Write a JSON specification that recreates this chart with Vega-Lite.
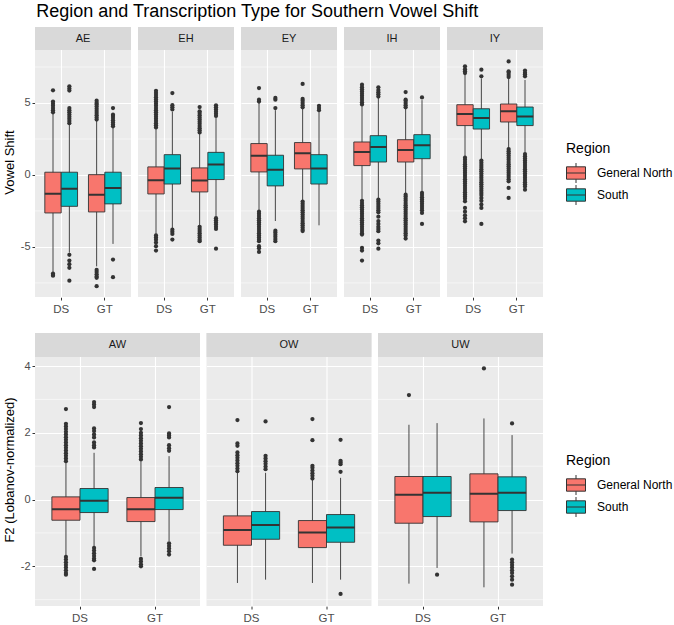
{
  "$schema": "https://vega.github.io/schema/vega-lite/v6.json",
  "padding": {"left": 3, "top": 3, "right": 2, "bottom": 1},
  "title": {"text": "Region and Transcription Type for Southern Vowel Shift", "anchor": "start", "fontSize": 18, "fontWeight": "normal", "color": "#000000", "offset": 6, "dx": 33},
  "config": {
    "font": "Liberation Sans",
    "view": {"fill": "#EBEBEB", "stroke": null},
    "axis": {"domain": false, "grid": true, "gridColor": "#FFFFFF", "gridWidth": 1.1, "tickColor": "#333333", "tickSize": 3, "labelColor": "#4D4D4D", "labelFontSize": 11, "titleFontSize": 13, "titleFontWeight": "normal", "titleColor": "#000000", "labelPadding": 2},
    "legend": {"titleFontSize": 14, "titleFontWeight": "normal", "labelFontSize": 12, "labelColor": "#000000", "titleColor": "#000000", "titlePadding": 7, "rowPadding": -2, "labelOffset": 11}
  },
  "datasets": {
    "top": [
      {"v":"AE","t":"DS","r":"General North","lo":-6.75,"q1":-2.64,"med":-1.30,"q3":0.19,"hi":4.3},
      {"v":"AE","t":"DS","r":"South","lo":-5.4,"q1":-2.18,"med":-0.95,"q3":0.19,"hi":3.55},
      {"v":"AE","t":"GT","r":"General North","lo":-6.35,"q1":-2.57,"med":-1.37,"q3":0.02,"hi":3.8},
      {"v":"AE","t":"GT","r":"South","lo":-4.79,"q1":-2.01,"med":-0.9,"q3":0.19,"hi":3.3},
      {"v":"EH","t":"DS","r":"General North","lo":-4.1,"q1":-1.32,"med":-0.37,"q3":0.56,"hi":3.2},
      {"v":"EH","t":"DS","r":"South","lo":-3.7,"q1":-0.63,"med":0.44,"q3":1.41,"hi":4.4},
      {"v":"EH","t":"GT","r":"General North","lo":-3.5,"q1":-1.18,"med":-0.39,"q3":0.49,"hi":2.9},
      {"v":"EH","t":"GT","r":"South","lo":-2.9,"q1":-0.32,"med":0.72,"q3":1.57,"hi":4.0},
      {"v":"EY","t":"DS","r":"General North","lo":-2.5,"q1":0.21,"med":1.34,"q3":2.18,"hi":5.0},
      {"v":"EY","t":"DS","r":"South","lo":-3.2,"q1":-0.76,"med":0.37,"q3":1.37,"hi":4.5},
      {"v":"EY","t":"GT","r":"General North","lo":-1.75,"q1":0.42,"med":1.5,"q3":2.25,"hi":4.65},
      {"v":"EY","t":"GT","r":"South","lo":-3.5,"q1":-0.63,"med":0.44,"q3":1.41,"hi":4.4},
      {"v":"IH","t":"DS","r":"General North","lo":-1.75,"q1":0.65,"med":1.6,"q3":2.29,"hi":4.8},
      {"v":"IH","t":"DS","r":"South","lo":-1.65,"q1":0.9,"med":1.94,"q3":2.73,"hi":5.35},
      {"v":"IH","t":"GT","r":"General North","lo":-1.3,"q1":0.9,"med":1.74,"q3":2.45,"hi":4.65},
      {"v":"IH","t":"GT","r":"South","lo":-1.2,"q1":1.13,"med":2.06,"q3":2.8,"hi":5.2},
      {"v":"IY","t":"DS","r":"General North","lo":1.3,"q1":3.43,"med":4.24,"q3":4.88,"hi":7.0},
      {"v":"IY","t":"DS","r":"South","lo":1.05,"q1":3.19,"med":3.96,"q3":4.6,"hi":6.7},
      {"v":"IY","t":"GT","r":"General North","lo":1.85,"q1":3.68,"med":4.42,"q3":4.93,"hi":6.75},
      {"v":"IY","t":"GT","r":"South","lo":1.55,"q1":3.43,"med":4.07,"q3":4.72,"hi":6.6},

      {"v":"AE","t":"DS","r":"General North","y":5.88},{"v":"AE","t":"DS","r":"General North","y":5.1},{"v":"AE","t":"DS","r":"General North","y":4.95},{"v":"AE","t":"DS","r":"General North","y":4.8},{"v":"AE","t":"DS","r":"General North","y":4.65},{"v":"AE","t":"DS","r":"General North","y":4.5},{"v":"AE","t":"DS","r":"General North","y":4.35},{"v":"AE","t":"DS","r":"General North","y":-6.85},{"v":"AE","t":"DS","r":"General North","y":-6.95},{"v":"AE","t":"DS","r":"General North","y":-7.0},
      {"v":"AE","t":"DS","r":"South","y":3.6},{"v":"AE","t":"DS","r":"South","y":3.75},{"v":"AE","t":"DS","r":"South","y":3.9},{"v":"AE","t":"DS","r":"South","y":4.05},{"v":"AE","t":"DS","r":"South","y":4.2},{"v":"AE","t":"DS","r":"South","y":4.35},{"v":"AE","t":"DS","r":"South","y":4.5},{"v":"AE","t":"DS","r":"South","y":4.65},{"v":"AE","t":"DS","r":"South","y":5.86},{"v":"AE","t":"DS","r":"South","y":6.0},{"v":"AE","t":"DS","r":"South","y":6.16},{"v":"AE","t":"DS","r":"South","y":-5.55},{"v":"AE","t":"DS","r":"South","y":-5.95},{"v":"AE","t":"DS","r":"South","y":-6.2},{"v":"AE","t":"DS","r":"South","y":-6.45},{"v":"AE","t":"DS","r":"South","y":-7.35},
      {"v":"AE","t":"GT","r":"General North","y":3.85},{"v":"AE","t":"GT","r":"General North","y":4.0},{"v":"AE","t":"GT","r":"General North","y":4.15},{"v":"AE","t":"GT","r":"General North","y":4.3},{"v":"AE","t":"GT","r":"General North","y":4.45},{"v":"AE","t":"GT","r":"General North","y":4.6},{"v":"AE","t":"GT","r":"General North","y":4.75},{"v":"AE","t":"GT","r":"General North","y":4.9},{"v":"AE","t":"GT","r":"General North","y":5.0},{"v":"AE","t":"GT","r":"General North","y":5.16},{"v":"AE","t":"GT","r":"General North","y":-6.6},{"v":"AE","t":"GT","r":"General North","y":-6.75},{"v":"AE","t":"GT","r":"General North","y":-6.9},{"v":"AE","t":"GT","r":"General North","y":-7.05},{"v":"AE","t":"GT","r":"General North","y":-7.15},{"v":"AE","t":"GT","r":"General North","y":-7.73},
      {"v":"AE","t":"GT","r":"South","y":3.38},{"v":"AE","t":"GT","r":"South","y":3.5},{"v":"AE","t":"GT","r":"South","y":3.65},{"v":"AE","t":"GT","r":"South","y":3.8},{"v":"AE","t":"GT","r":"South","y":3.95},{"v":"AE","t":"GT","r":"South","y":4.1},{"v":"AE","t":"GT","r":"South","y":4.19},{"v":"AE","t":"GT","r":"South","y":4.65},{"v":"AE","t":"GT","r":"South","y":-5.88},{"v":"AE","t":"GT","r":"South","y":-7.1},

      {"v":"EH","t":"DS","r":"General North","y":3.3},{"v":"EH","t":"DS","r":"General North","y":3.45},{"v":"EH","t":"DS","r":"General North","y":3.6},{"v":"EH","t":"DS","r":"General North","y":3.75},{"v":"EH","t":"DS","r":"General North","y":3.9},{"v":"EH","t":"DS","r":"General North","y":4.05},{"v":"EH","t":"DS","r":"General North","y":4.2},{"v":"EH","t":"DS","r":"General North","y":4.35},{"v":"EH","t":"DS","r":"General North","y":4.5},{"v":"EH","t":"DS","r":"General North","y":4.65},{"v":"EH","t":"DS","r":"General North","y":4.8},{"v":"EH","t":"DS","r":"General North","y":4.95},{"v":"EH","t":"DS","r":"General North","y":5.1},{"v":"EH","t":"DS","r":"General North","y":5.25},{"v":"EH","t":"DS","r":"General North","y":5.4},{"v":"EH","t":"DS","r":"General North","y":5.55},{"v":"EH","t":"DS","r":"General North","y":5.7},{"v":"EH","t":"DS","r":"General North","y":5.85},{"v":"EH","t":"DS","r":"General North","y":-4.2},{"v":"EH","t":"DS","r":"General North","y":-4.35},{"v":"EH","t":"DS","r":"General North","y":-4.5},{"v":"EH","t":"DS","r":"General North","y":-4.7},{"v":"EH","t":"DS","r":"General North","y":-4.95},{"v":"EH","t":"DS","r":"General North","y":-5.25},
      {"v":"EH","t":"DS","r":"South","y":4.55},{"v":"EH","t":"DS","r":"South","y":4.7},{"v":"EH","t":"DS","r":"South","y":4.85},{"v":"EH","t":"DS","r":"South","y":5.69},{"v":"EH","t":"DS","r":"South","y":-3.8},{"v":"EH","t":"DS","r":"South","y":-3.95},{"v":"EH","t":"DS","r":"South","y":-4.1},{"v":"EH","t":"DS","r":"South","y":-4.49},
      {"v":"EH","t":"GT","r":"General North","y":2.95},{"v":"EH","t":"GT","r":"General North","y":3.1},{"v":"EH","t":"GT","r":"General North","y":3.25},{"v":"EH","t":"GT","r":"General North","y":3.4},{"v":"EH","t":"GT","r":"General North","y":3.55},{"v":"EH","t":"GT","r":"General North","y":3.7},{"v":"EH","t":"GT","r":"General North","y":3.85},{"v":"EH","t":"GT","r":"General North","y":4.0},{"v":"EH","t":"GT","r":"General North","y":4.15},{"v":"EH","t":"GT","r":"General North","y":4.3},{"v":"EH","t":"GT","r":"General North","y":4.42},{"v":"EH","t":"GT","r":"General North","y":4.72},{"v":"EH","t":"GT","r":"General North","y":-3.6},{"v":"EH","t":"GT","r":"General North","y":-3.75},{"v":"EH","t":"GT","r":"General North","y":-3.9},{"v":"EH","t":"GT","r":"General North","y":-4.05},{"v":"EH","t":"GT","r":"General North","y":-4.2},{"v":"EH","t":"GT","r":"General North","y":-4.35},{"v":"EH","t":"GT","r":"General North","y":-4.5},{"v":"EH","t":"GT","r":"General North","y":-4.6},
      {"v":"EH","t":"GT","r":"South","y":4.1},{"v":"EH","t":"GT","r":"South","y":4.25},{"v":"EH","t":"GT","r":"South","y":4.4},{"v":"EH","t":"GT","r":"South","y":4.55},{"v":"EH","t":"GT","r":"South","y":4.7},{"v":"EH","t":"GT","r":"South","y":4.84},{"v":"EH","t":"GT","r":"South","y":-3.0},{"v":"EH","t":"GT","r":"South","y":-3.15},{"v":"EH","t":"GT","r":"South","y":-3.3},{"v":"EH","t":"GT","r":"South","y":-3.45},{"v":"EH","t":"GT","r":"South","y":-3.6},{"v":"EH","t":"GT","r":"South","y":-3.75},{"v":"EH","t":"GT","r":"South","y":-5.12},

      {"v":"EY","t":"DS","r":"General North","y":5.1},{"v":"EY","t":"DS","r":"General North","y":5.23},{"v":"EY","t":"DS","r":"General North","y":6.04},{"v":"EY","t":"DS","r":"General North","y":-2.55},{"v":"EY","t":"DS","r":"General North","y":-2.7},{"v":"EY","t":"DS","r":"General North","y":-2.85},{"v":"EY","t":"DS","r":"General North","y":-3.0},{"v":"EY","t":"DS","r":"General North","y":-3.15},{"v":"EY","t":"DS","r":"General North","y":-3.3},{"v":"EY","t":"DS","r":"General North","y":-3.45},{"v":"EY","t":"DS","r":"General North","y":-3.6},{"v":"EY","t":"DS","r":"General North","y":-3.75},{"v":"EY","t":"DS","r":"General North","y":-3.9},{"v":"EY","t":"DS","r":"General North","y":-4.05},{"v":"EY","t":"DS","r":"General North","y":-4.2},{"v":"EY","t":"DS","r":"General North","y":-4.35},{"v":"EY","t":"DS","r":"General North","y":-4.5},{"v":"EY","t":"DS","r":"General North","y":-4.6},{"v":"EY","t":"DS","r":"General North","y":-4.95},{"v":"EY","t":"DS","r":"General North","y":-5.1},{"v":"EY","t":"DS","r":"General North","y":-5.35},
      {"v":"EY","t":"DS","r":"South","y":4.65},{"v":"EY","t":"DS","r":"South","y":5.23},{"v":"EY","t":"DS","r":"South","y":5.35},{"v":"EY","t":"DS","r":"South","y":-3.87},{"v":"EY","t":"DS","r":"South","y":-4.0},{"v":"EY","t":"DS","r":"South","y":-4.15},{"v":"EY","t":"DS","r":"South","y":-4.3},{"v":"EY","t":"DS","r":"South","y":-4.45},{"v":"EY","t":"DS","r":"South","y":-4.6},
      {"v":"EY","t":"GT","r":"General North","y":4.7},{"v":"EY","t":"GT","r":"General North","y":4.85},{"v":"EY","t":"GT","r":"General North","y":5.0},{"v":"EY","t":"GT","r":"General North","y":5.15},{"v":"EY","t":"GT","r":"General North","y":5.28},{"v":"EY","t":"GT","r":"General North","y":6.32},{"v":"EY","t":"GT","r":"General North","y":-1.85},{"v":"EY","t":"GT","r":"General North","y":-2.0},{"v":"EY","t":"GT","r":"General North","y":-2.15},{"v":"EY","t":"GT","r":"General North","y":-2.3},{"v":"EY","t":"GT","r":"General North","y":-2.45},{"v":"EY","t":"GT","r":"General North","y":-2.6},{"v":"EY","t":"GT","r":"General North","y":-2.75},{"v":"EY","t":"GT","r":"General North","y":-2.9},{"v":"EY","t":"GT","r":"General North","y":-3.05},{"v":"EY","t":"GT","r":"General North","y":-3.2},{"v":"EY","t":"GT","r":"General North","y":-3.35},{"v":"EY","t":"GT","r":"General North","y":-3.5},{"v":"EY","t":"GT","r":"General North","y":-3.65},{"v":"EY","t":"GT","r":"General North","y":-3.8},{"v":"EY","t":"GT","r":"General North","y":-3.9},
      {"v":"EY","t":"GT","r":"South","y":4.5},{"v":"EY","t":"GT","r":"South","y":4.65},{"v":"EY","t":"GT","r":"South","y":4.8},

      {"v":"IH","t":"DS","r":"General North","y":4.9},{"v":"IH","t":"DS","r":"General North","y":5.05},{"v":"IH","t":"DS","r":"General North","y":5.2},{"v":"IH","t":"DS","r":"General North","y":5.35},{"v":"IH","t":"DS","r":"General North","y":5.5},{"v":"IH","t":"DS","r":"General North","y":5.65},{"v":"IH","t":"DS","r":"General North","y":5.8},{"v":"IH","t":"DS","r":"General North","y":5.95},{"v":"IH","t":"DS","r":"General North","y":6.1},{"v":"IH","t":"DS","r":"General North","y":6.27},{"v":"IH","t":"DS","r":"General North","y":-1.8},{"v":"IH","t":"DS","r":"General North","y":-1.95},{"v":"IH","t":"DS","r":"General North","y":-2.1},{"v":"IH","t":"DS","r":"General North","y":-2.25},{"v":"IH","t":"DS","r":"General North","y":-2.4},{"v":"IH","t":"DS","r":"General North","y":-2.55},{"v":"IH","t":"DS","r":"General North","y":-2.7},{"v":"IH","t":"DS","r":"General North","y":-2.85},{"v":"IH","t":"DS","r":"General North","y":-3.0},{"v":"IH","t":"DS","r":"General North","y":-3.15},{"v":"IH","t":"DS","r":"General North","y":-3.3},{"v":"IH","t":"DS","r":"General North","y":-3.45},{"v":"IH","t":"DS","r":"General North","y":-3.6},{"v":"IH","t":"DS","r":"General North","y":-3.75},{"v":"IH","t":"DS","r":"General North","y":-3.9},{"v":"IH","t":"DS","r":"General North","y":-4.05},{"v":"IH","t":"DS","r":"General North","y":-4.14},{"v":"IH","t":"DS","r":"General North","y":-5.07},{"v":"IH","t":"DS","r":"General North","y":-5.25},{"v":"IH","t":"DS","r":"General North","y":-5.95},
      {"v":"IH","t":"DS","r":"South","y":5.45},{"v":"IH","t":"DS","r":"South","y":5.6},{"v":"IH","t":"DS","r":"South","y":5.75},{"v":"IH","t":"DS","r":"South","y":5.9},{"v":"IH","t":"DS","r":"South","y":6.09},{"v":"IH","t":"DS","r":"South","y":-1.71},{"v":"IH","t":"DS","r":"South","y":-1.85},{"v":"IH","t":"DS","r":"South","y":-2.0},{"v":"IH","t":"DS","r":"South","y":-2.15},{"v":"IH","t":"DS","r":"South","y":-2.3},{"v":"IH","t":"DS","r":"South","y":-2.45},{"v":"IH","t":"DS","r":"South","y":-2.6},{"v":"IH","t":"DS","r":"South","y":-2.9},{"v":"IH","t":"DS","r":"South","y":-3.2},{"v":"IH","t":"DS","r":"South","y":-3.4},{"v":"IH","t":"DS","r":"South","y":-3.6},{"v":"IH","t":"DS","r":"South","y":-3.75},{"v":"IH","t":"DS","r":"South","y":-3.91},{"v":"IH","t":"DS","r":"South","y":-4.56},{"v":"IH","t":"DS","r":"South","y":-4.75},{"v":"IH","t":"DS","r":"South","y":-5.12},
      {"v":"IH","t":"GT","r":"General North","y":4.7},{"v":"IH","t":"GT","r":"General North","y":4.85},{"v":"IH","t":"GT","r":"General North","y":5.0},{"v":"IH","t":"GT","r":"General North","y":5.15},{"v":"IH","t":"GT","r":"General North","y":5.23},{"v":"IH","t":"GT","r":"General North","y":5.76},{"v":"IH","t":"GT","r":"General North","y":-1.37},{"v":"IH","t":"GT","r":"General North","y":-1.5},{"v":"IH","t":"GT","r":"General North","y":-1.65},{"v":"IH","t":"GT","r":"General North","y":-1.8},{"v":"IH","t":"GT","r":"General North","y":-1.95},{"v":"IH","t":"GT","r":"General North","y":-2.1},{"v":"IH","t":"GT","r":"General North","y":-2.25},{"v":"IH","t":"GT","r":"General North","y":-2.4},{"v":"IH","t":"GT","r":"General North","y":-2.55},{"v":"IH","t":"GT","r":"General North","y":-2.7},{"v":"IH","t":"GT","r":"General North","y":-2.85},{"v":"IH","t":"GT","r":"General North","y":-3.0},{"v":"IH","t":"GT","r":"General North","y":-3.15},{"v":"IH","t":"GT","r":"General North","y":-3.3},{"v":"IH","t":"GT","r":"General North","y":-3.45},{"v":"IH","t":"GT","r":"General North","y":-3.6},{"v":"IH","t":"GT","r":"General North","y":-3.75},{"v":"IH","t":"GT","r":"General North","y":-3.9},{"v":"IH","t":"GT","r":"General North","y":-4.05},{"v":"IH","t":"GT","r":"General North","y":-4.2},{"v":"IH","t":"GT","r":"General North","y":-4.42},
      {"v":"IH","t":"GT","r":"South","y":5.39},{"v":"IH","t":"GT","r":"South","y":-1.25},{"v":"IH","t":"GT","r":"South","y":-1.4},{"v":"IH","t":"GT","r":"South","y":-1.55},{"v":"IH","t":"GT","r":"South","y":-1.7},{"v":"IH","t":"GT","r":"South","y":-1.85},{"v":"IH","t":"GT","r":"South","y":-2.0},{"v":"IH","t":"GT","r":"South","y":-2.15},{"v":"IH","t":"GT","r":"South","y":-2.3},{"v":"IH","t":"GT","r":"South","y":-2.45},{"v":"IH","t":"GT","r":"South","y":-2.64},{"v":"IH","t":"GT","r":"South","y":-3.4},

      {"v":"IY","t":"DS","r":"General North","y":7.08},{"v":"IY","t":"DS","r":"General North","y":7.2},{"v":"IY","t":"DS","r":"General North","y":7.35},{"v":"IY","t":"DS","r":"General North","y":7.55},{"v":"IY","t":"DS","r":"General North","y":1.2},{"v":"IY","t":"DS","r":"General North","y":1.05},{"v":"IY","t":"DS","r":"General North","y":0.9},{"v":"IY","t":"DS","r":"General North","y":0.75},{"v":"IY","t":"DS","r":"General North","y":0.6},{"v":"IY","t":"DS","r":"General North","y":0.45},{"v":"IY","t":"DS","r":"General North","y":0.3},{"v":"IY","t":"DS","r":"General North","y":0.15},{"v":"IY","t":"DS","r":"General North","y":0.0},{"v":"IY","t":"DS","r":"General North","y":-0.15},{"v":"IY","t":"DS","r":"General North","y":-0.3},{"v":"IY","t":"DS","r":"General North","y":-0.45},{"v":"IY","t":"DS","r":"General North","y":-0.6},{"v":"IY","t":"DS","r":"General North","y":-0.75},{"v":"IY","t":"DS","r":"General North","y":-0.9},{"v":"IY","t":"DS","r":"General North","y":-1.05},{"v":"IY","t":"DS","r":"General North","y":-1.2},{"v":"IY","t":"DS","r":"General North","y":-1.35},{"v":"IY","t":"DS","r":"General North","y":-1.5},{"v":"IY","t":"DS","r":"General North","y":-1.65},{"v":"IY","t":"DS","r":"General North","y":-1.83},{"v":"IY","t":"DS","r":"General North","y":-2.29},{"v":"IY","t":"DS","r":"General North","y":-2.55},{"v":"IY","t":"DS","r":"General North","y":-2.8},{"v":"IY","t":"DS","r":"General North","y":-3.0},{"v":"IY","t":"DS","r":"General North","y":-3.22},
      {"v":"IY","t":"DS","r":"South","y":6.85},{"v":"IY","t":"DS","r":"South","y":7.31},{"v":"IY","t":"DS","r":"South","y":1.0},{"v":"IY","t":"DS","r":"South","y":0.85},{"v":"IY","t":"DS","r":"South","y":0.7},{"v":"IY","t":"DS","r":"South","y":0.55},{"v":"IY","t":"DS","r":"South","y":0.4},{"v":"IY","t":"DS","r":"South","y":0.25},{"v":"IY","t":"DS","r":"South","y":0.1},{"v":"IY","t":"DS","r":"South","y":-0.05},{"v":"IY","t":"DS","r":"South","y":-0.2},{"v":"IY","t":"DS","r":"South","y":-0.35},{"v":"IY","t":"DS","r":"South","y":-0.5},{"v":"IY","t":"DS","r":"South","y":-0.65},{"v":"IY","t":"DS","r":"South","y":-0.8},{"v":"IY","t":"DS","r":"South","y":-0.95},{"v":"IY","t":"DS","r":"South","y":-1.1},{"v":"IY","t":"DS","r":"South","y":-1.25},{"v":"IY","t":"DS","r":"South","y":-1.4},{"v":"IY","t":"DS","r":"South","y":-1.6},{"v":"IY","t":"DS","r":"South","y":-1.8},{"v":"IY","t":"DS","r":"South","y":-2.05},{"v":"IY","t":"DS","r":"South","y":-2.29},{"v":"IY","t":"DS","r":"South","y":-3.4},
      {"v":"IY","t":"GT","r":"General North","y":6.8},{"v":"IY","t":"GT","r":"General North","y":6.95},{"v":"IY","t":"GT","r":"General North","y":7.1},{"v":"IY","t":"GT","r":"General North","y":7.2},{"v":"IY","t":"GT","r":"General North","y":7.89},{"v":"IY","t":"GT","r":"General North","y":1.8},{"v":"IY","t":"GT","r":"General North","y":1.65},{"v":"IY","t":"GT","r":"General North","y":1.5},{"v":"IY","t":"GT","r":"General North","y":1.35},{"v":"IY","t":"GT","r":"General North","y":1.2},{"v":"IY","t":"GT","r":"General North","y":1.05},{"v":"IY","t":"GT","r":"General North","y":0.9},{"v":"IY","t":"GT","r":"General North","y":0.75},{"v":"IY","t":"GT","r":"General North","y":0.6},{"v":"IY","t":"GT","r":"General North","y":0.45},{"v":"IY","t":"GT","r":"General North","y":0.3},{"v":"IY","t":"GT","r":"General North","y":0.15},{"v":"IY","t":"GT","r":"General North","y":0.0},{"v":"IY","t":"GT","r":"General North","y":-0.15},{"v":"IY","t":"GT","r":"General North","y":-0.3},{"v":"IY","t":"GT","r":"General North","y":-0.44},{"v":"IY","t":"GT","r":"General North","y":-0.9},{"v":"IY","t":"GT","r":"General North","y":-1.6},
      {"v":"IY","t":"GT","r":"South","y":6.85},{"v":"IY","t":"GT","r":"South","y":7.0},{"v":"IY","t":"GT","r":"South","y":7.1},{"v":"IY","t":"GT","r":"South","y":7.25},{"v":"IY","t":"GT","r":"South","y":1.45},{"v":"IY","t":"GT","r":"South","y":1.3},{"v":"IY","t":"GT","r":"South","y":1.15},{"v":"IY","t":"GT","r":"South","y":1.0},{"v":"IY","t":"GT","r":"South","y":0.85},{"v":"IY","t":"GT","r":"South","y":0.7},{"v":"IY","t":"GT","r":"South","y":0.55},{"v":"IY","t":"GT","r":"South","y":0.4},{"v":"IY","t":"GT","r":"South","y":0.25},{"v":"IY","t":"GT","r":"South","y":0.1},{"v":"IY","t":"GT","r":"South","y":-0.05},{"v":"IY","t":"GT","r":"South","y":-0.2},{"v":"IY","t":"GT","r":"South","y":-0.35},{"v":"IY","t":"GT","r":"South","y":-0.5},{"v":"IY","t":"GT","r":"South","y":-0.65},{"v":"IY","t":"GT","r":"South","y":-0.8},{"v":"IY","t":"GT","r":"South","y":-1.02}
    ],
    "bottom": [
      {"v":"AW","t":"DS","r":"General North","lo":-1.68,"q1":-0.62,"med":-0.29,"q3":0.08,"hi":1.1},
      {"v":"AW","t":"DS","r":"South","lo":-1.4,"q1":-0.39,"med":-0.04,"q3":0.33,"hi":1.4},
      {"v":"AW","t":"GT","r":"General North","lo":-1.7,"q1":-0.66,"med":-0.29,"q3":0.06,"hi":1.15},
      {"v":"AW","t":"GT","r":"South","lo":-1.25,"q1":-0.3,"med":0.05,"q3":0.36,"hi":1.3},
      {"v":"OW","t":"DS","r":"General North","lo":-2.5,"q1":-1.37,"med":-0.91,"q3":-0.49,"hi":0.8},
      {"v":"OW","t":"DS","r":"South","lo":-2.4,"q1":-1.19,"med":-0.76,"q3":-0.36,"hi":0.8},
      {"v":"OW","t":"GT","r":"General North","lo":-2.5,"q1":-1.44,"med":-0.99,"q3":-0.63,"hi":0.6},
      {"v":"OW","t":"GT","r":"South","lo":-2.4,"q1":-1.28,"med":-0.84,"q3":-0.45,"hi":0.65},
      {"v":"UW","t":"DS","r":"General North","lo":-2.52,"q1":-0.71,"med":0.14,"q3":0.69,"hi":2.24},
      {"v":"UW","t":"DS","r":"South","lo":-2.05,"q1":-0.51,"med":0.2,"q3":0.69,"hi":2.29},
      {"v":"UW","t":"GT","r":"General North","lo":-2.63,"q1":-0.67,"med":0.17,"q3":0.77,"hi":2.43},
      {"v":"UW","t":"GT","r":"South","lo":-1.62,"q1":-0.33,"med":0.2,"q3":0.68,"hi":1.93},

      {"v":"AW","t":"DS","r":"General North","y":1.15},{"v":"AW","t":"DS","r":"General North","y":1.23},{"v":"AW","t":"DS","r":"General North","y":1.31},{"v":"AW","t":"DS","r":"General North","y":1.39},{"v":"AW","t":"DS","r":"General North","y":1.47},{"v":"AW","t":"DS","r":"General North","y":1.55},{"v":"AW","t":"DS","r":"General North","y":1.63},{"v":"AW","t":"DS","r":"General North","y":1.71},{"v":"AW","t":"DS","r":"General North","y":1.79},{"v":"AW","t":"DS","r":"General North","y":1.87},{"v":"AW","t":"DS","r":"General North","y":1.95},{"v":"AW","t":"DS","r":"General North","y":2.03},{"v":"AW","t":"DS","r":"General North","y":2.11},{"v":"AW","t":"DS","r":"General North","y":2.19},{"v":"AW","t":"DS","r":"General North","y":2.27},{"v":"AW","t":"DS","r":"General North","y":2.71},{"v":"AW","t":"DS","r":"General North","y":-1.72},{"v":"AW","t":"DS","r":"General North","y":-1.8},{"v":"AW","t":"DS","r":"General North","y":-1.88},{"v":"AW","t":"DS","r":"General North","y":-1.96},{"v":"AW","t":"DS","r":"General North","y":-2.04},{"v":"AW","t":"DS","r":"General North","y":-2.12},{"v":"AW","t":"DS","r":"General North","y":-2.2},{"v":"AW","t":"DS","r":"General North","y":-2.25},
      {"v":"AW","t":"DS","r":"South","y":1.56},{"v":"AW","t":"DS","r":"South","y":1.63},{"v":"AW","t":"DS","r":"South","y":1.71},{"v":"AW","t":"DS","r":"South","y":1.86},{"v":"AW","t":"DS","r":"South","y":1.95},{"v":"AW","t":"DS","r":"South","y":2.05},{"v":"AW","t":"DS","r":"South","y":2.13},{"v":"AW","t":"DS","r":"South","y":2.77},{"v":"AW","t":"DS","r":"South","y":2.85},{"v":"AW","t":"DS","r":"South","y":2.92},{"v":"AW","t":"DS","r":"South","y":-1.45},{"v":"AW","t":"DS","r":"South","y":-1.53},{"v":"AW","t":"DS","r":"South","y":-1.61},{"v":"AW","t":"DS","r":"South","y":-1.69},{"v":"AW","t":"DS","r":"South","y":-1.77},{"v":"AW","t":"DS","r":"South","y":-1.82},{"v":"AW","t":"DS","r":"South","y":-2.08},
      {"v":"AW","t":"GT","r":"General North","y":1.2},{"v":"AW","t":"GT","r":"General North","y":1.28},{"v":"AW","t":"GT","r":"General North","y":1.36},{"v":"AW","t":"GT","r":"General North","y":1.44},{"v":"AW","t":"GT","r":"General North","y":1.52},{"v":"AW","t":"GT","r":"General North","y":1.6},{"v":"AW","t":"GT","r":"General North","y":1.68},{"v":"AW","t":"GT","r":"General North","y":1.76},{"v":"AW","t":"GT","r":"General North","y":1.84},{"v":"AW","t":"GT","r":"General North","y":1.92},{"v":"AW","t":"GT","r":"General North","y":2.0},{"v":"AW","t":"GT","r":"General North","y":2.11},{"v":"AW","t":"GT","r":"General North","y":2.29},{"v":"AW","t":"GT","r":"General North","y":-1.78},{"v":"AW","t":"GT","r":"General North","y":-1.86},{"v":"AW","t":"GT","r":"General North","y":-1.94},{"v":"AW","t":"GT","r":"General North","y":-2.0},
      {"v":"AW","t":"GT","r":"South","y":1.46},{"v":"AW","t":"GT","r":"South","y":1.54},{"v":"AW","t":"GT","r":"South","y":1.63},{"v":"AW","t":"GT","r":"South","y":1.86},{"v":"AW","t":"GT","r":"South","y":1.92},{"v":"AW","t":"GT","r":"South","y":1.98},{"v":"AW","t":"GT","r":"South","y":2.77},{"v":"AW","t":"GT","r":"South","y":-1.31},{"v":"AW","t":"GT","r":"South","y":-1.39},{"v":"AW","t":"GT","r":"South","y":-1.47},{"v":"AW","t":"GT","r":"South","y":-1.55},{"v":"AW","t":"GT","r":"South","y":-1.65},
      {"v":"OW","t":"DS","r":"General North","y":0.85},{"v":"OW","t":"DS","r":"General North","y":0.93},{"v":"OW","t":"DS","r":"General North","y":1.01},{"v":"OW","t":"DS","r":"General North","y":1.09},{"v":"OW","t":"DS","r":"General North","y":1.17},{"v":"OW","t":"DS","r":"General North","y":1.25},{"v":"OW","t":"DS","r":"General North","y":1.33},{"v":"OW","t":"DS","r":"General North","y":1.41},{"v":"OW","t":"DS","r":"General North","y":1.61},{"v":"OW","t":"DS","r":"General North","y":1.68},{"v":"OW","t":"DS","r":"General North","y":2.38},
      {"v":"OW","t":"DS","r":"South","y":0.91},{"v":"OW","t":"DS","r":"South","y":0.99},{"v":"OW","t":"DS","r":"South","y":1.07},{"v":"OW","t":"DS","r":"South","y":1.15},{"v":"OW","t":"DS","r":"South","y":1.23},{"v":"OW","t":"DS","r":"South","y":1.31},{"v":"OW","t":"DS","r":"South","y":2.34},
      {"v":"OW","t":"GT","r":"General North","y":0.63},{"v":"OW","t":"GT","r":"General North","y":0.71},{"v":"OW","t":"GT","r":"General North","y":0.79},{"v":"OW","t":"GT","r":"General North","y":0.87},{"v":"OW","t":"GT","r":"General North","y":0.95},{"v":"OW","t":"GT","r":"General North","y":1.01},{"v":"OW","t":"GT","r":"General North","y":1.78},{"v":"OW","t":"GT","r":"General North","y":2.41},
      {"v":"OW","t":"GT","r":"South","y":0.83},{"v":"OW","t":"GT","r":"South","y":1.06},{"v":"OW","t":"GT","r":"South","y":1.11},{"v":"OW","t":"GT","r":"South","y":1.16},{"v":"OW","t":"GT","r":"South","y":1.79},{"v":"OW","t":"GT","r":"South","y":-2.83},
      {"v":"UW","t":"DS","r":"General North","y":3.13},
      {"v":"UW","t":"DS","r":"South","y":-2.25},
      {"v":"UW","t":"GT","r":"General North","y":3.93},
      {"v":"UW","t":"GT","r":"South","y":2.28},{"v":"UW","t":"GT","r":"South","y":-1.8},{"v":"UW","t":"GT","r":"South","y":-1.88},{"v":"UW","t":"GT","r":"South","y":-1.96},{"v":"UW","t":"GT","r":"South","y":-2.04},{"v":"UW","t":"GT","r":"South","y":-2.12},{"v":"UW","t":"GT","r":"South","y":-2.2},{"v":"UW","t":"GT","r":"South","y":-2.3},{"v":"UW","t":"GT","r":"South","y":-2.4},{"v":"UW","t":"GT","r":"South","y":-2.55}
    ]
  },
  "vconcat": [
    {
      "data": {"name": "top"},
      "facet": {"column": {"field": "v", "type": "nominal", "header": {"labels": false, "title": null}}},
      "spacing": 7,
      "bounds": "flush",
      "spec": {
        "width": 96,
        "height": 270,
        "encoding": {
          "x": {"field": "t", "type": "nominal", "title": null, "scale": {"paddingInner": 0.25, "paddingOuter": 0.225}, "axis": {"bandPosition": 0.5, "labelFontSize": 11.5, "labelPadding": 3, "labelAngle": 0}},
          "xOffset": {"field": "r", "type": "nominal", "scale": {"paddingInner": 0, "paddingOuter": 0}}
        },
        "layer": [
          {"transform": [{"filter": "isValid(datum.q1) && datum.t === 'DS' && datum.r === 'General North'"}], "mark": {"type": "rule", "color": "#FFFFFF", "strokeWidth": 0.55}, "encoding": {"x": null, "xOffset": null, "y": {"datum": -7.5, "type": "quantitative", "title": "Vowel Shift"}}},
          {"transform": [{"filter": "isValid(datum.q1) && datum.t === 'DS' && datum.r === 'General North'"}], "mark": {"type": "rule", "color": "#FFFFFF", "strokeWidth": 0.55}, "encoding": {"x": null, "xOffset": null, "y": {"datum": -2.5, "type": "quantitative", "title": "Vowel Shift"}}},
          {"transform": [{"filter": "isValid(datum.q1) && datum.t === 'DS' && datum.r === 'General North'"}], "mark": {"type": "rule", "color": "#FFFFFF", "strokeWidth": 0.55}, "encoding": {"x": null, "xOffset": null, "y": {"datum": 2.5, "type": "quantitative", "title": "Vowel Shift"}}},
          {"transform": [{"filter": "isValid(datum.q1) && datum.t === 'DS' && datum.r === 'General North'"}], "mark": {"type": "rule", "color": "#FFFFFF", "strokeWidth": 0.55}, "encoding": {"x": null, "xOffset": null, "y": {"datum": 7.5, "type": "quantitative", "title": "Vowel Shift"}}},
          {
            "transform": [{"filter": "isValid(datum.q1)"}],
            "mark": {"type": "rule", "color": "#333333", "strokeWidth": 0.9},
            "encoding": {
              "y": {"field": "lo", "type": "quantitative", "scale": {"domain": [-8.48, 10.28], "nice": false, "zero": false}, "axis": {"title": "Vowel Shift", "values": [-5, 0, 5], "labelExpr": "'' + datum.value"}},
              "y2": {"field": "hi"}
            }
          },
          {
            "transform": [{"filter": "isValid(datum.q1)"}],
            "mark": {"type": "bar", "stroke": "#333333", "strokeWidth": 0.9},
            "encoding": {
              "y": {"field": "q1", "type": "quantitative", "title": "Vowel Shift"},
              "y2": {"field": "q3"},
              "color": {"field": "r", "type": "nominal", "scale": {"domain": ["General North", "South"], "range": ["#F8766D", "#00BFC4"]}, "legend": {"title": "Region", "orient": "none", "legendX": 531, "legendY": 115, "symbolType": "M-1,-0.65H1V0.65H-1Z M-1,0H1 M0,-0.65V-1.05 M0,0.65V1.05", "symbolSize": 361, "symbolStrokeColor": "#333333", "symbolStrokeWidth": 1, "symbolOpacity": 1}}
            }
          },
          {
            "transform": [{"filter": "isValid(datum.q1)"}],
            "mark": {"type": "bar", "fill": "#333333", "stroke": "#333333", "strokeWidth": 2},
            "encoding": {"y": {"field": "med", "type": "quantitative", "title": "Vowel Shift"}, "y2": {"field": "med"}}
          },
          {
            "transform": [{"filter": "isValid(datum.y)"}],
            "mark": {"type": "circle", "color": "#333333", "size": 18, "opacity": 1},
            "encoding": {"y": {"field": "y", "type": "quantitative", "title": "Vowel Shift"}}
          },
          {
            "transform": [{"filter": "isValid(datum.q1) && datum.t === 'DS' && datum.r === 'General North'"}],
            "mark": {"type": "rect", "color": "#D9D9D9"},
            "encoding": {"x": null, "xOffset": null, "y": {"datum": 8.68, "type": "quantitative", "title": "Vowel Shift"}, "y2": {"datum": 10.28}}
          },
          {
            "transform": [{"filter": "isValid(datum.q1) && datum.t === 'DS' && datum.r === 'General North'"}],
            "mark": {"type": "text", "color": "#1A1A1A", "fontSize": 11, "baseline": "middle"},
            "encoding": {"x": null, "xOffset": null, "y": {"datum": 9.48, "type": "quantitative", "title": "Vowel Shift"}, "text": {"field": "v"}}
          }
        ]
      }
    },
    {
      "data": {"name": "bottom"},
      "facet": {"column": {"field": "v", "type": "nominal", "header": {"labels": false, "title": null}}},
      "spacing": 6.5,
      "bounds": "flush",
      "spec": {
        "width": 165,
        "height": 273,
        "encoding": {
          "x": {"field": "t", "type": "nominal", "title": null, "scale": {"paddingInner": 0.25, "paddingOuter": 0.225}, "axis": {"bandPosition": 0.5, "labelFontSize": 11.5, "labelPadding": 3, "labelAngle": 0}},
          "xOffset": {"field": "r", "type": "nominal", "scale": {"paddingInner": 0, "paddingOuter": 0}}
        },
        "layer": [
          {"transform": [{"filter": "isValid(datum.q1) && datum.t === 'DS' && datum.r === 'General North'"}], "mark": {"type": "rule", "color": "#FFFFFF", "strokeWidth": 0.55}, "encoding": {"x": null, "xOffset": null, "y": {"datum": -3, "type": "quantitative", "title": "F2 (Lobanov-normalized)"}}},
          {"transform": [{"filter": "isValid(datum.q1) && datum.t === 'DS' && datum.r === 'General North'"}], "mark": {"type": "rule", "color": "#FFFFFF", "strokeWidth": 0.55}, "encoding": {"x": null, "xOffset": null, "y": {"datum": -1, "type": "quantitative", "title": "F2 (Lobanov-normalized)"}}},
          {"transform": [{"filter": "isValid(datum.q1) && datum.t === 'DS' && datum.r === 'General North'"}], "mark": {"type": "rule", "color": "#FFFFFF", "strokeWidth": 0.55}, "encoding": {"x": null, "xOffset": null, "y": {"datum": 1, "type": "quantitative", "title": "F2 (Lobanov-normalized)"}}},
          {"transform": [{"filter": "isValid(datum.q1) && datum.t === 'DS' && datum.r === 'General North'"}], "mark": {"type": "rule", "color": "#FFFFFF", "strokeWidth": 0.55}, "encoding": {"x": null, "xOffset": null, "y": {"datum": 3, "type": "quantitative", "title": "F2 (Lobanov-normalized)"}}},
          {
            "transform": [{"filter": "isValid(datum.q1)"}],
            "mark": {"type": "rule", "color": "#333333", "strokeWidth": 0.9},
            "encoding": {
              "y": {"field": "lo", "type": "quantitative", "scale": {"domain": [-3.19, 4.99], "nice": false, "zero": false}, "axis": {"title": "F2 (Lobanov-normalized)", "values": [-2, 0, 2, 4], "labelExpr": "'' + datum.value"}},
              "y2": {"field": "hi"}
            }
          },
          {
            "transform": [{"filter": "isValid(datum.q1)"}],
            "mark": {"type": "bar", "stroke": "#333333", "strokeWidth": 0.9},
            "encoding": {
              "y": {"field": "q1", "type": "quantitative", "title": "F2 (Lobanov-normalized)"},
              "y2": {"field": "q3"},
              "color": {"field": "r", "type": "nominal", "scale": {"domain": ["General North", "South"], "range": ["#F8766D", "#00BFC4"]}, "legend": {"title": "Region", "orient": "none", "legendX": 531, "legendY": 121, "symbolType": "M-1,-0.65H1V0.65H-1Z M-1,0H1 M0,-0.65V-1.05 M0,0.65V1.05", "symbolSize": 361, "symbolStrokeColor": "#333333", "symbolStrokeWidth": 1, "symbolOpacity": 1}}
            }
          },
          {
            "transform": [{"filter": "isValid(datum.q1)"}],
            "mark": {"type": "bar", "fill": "#333333", "stroke": "#333333", "strokeWidth": 2},
            "encoding": {"y": {"field": "med", "type": "quantitative", "title": "F2 (Lobanov-normalized)"}, "y2": {"field": "med"}}
          },
          {
            "transform": [{"filter": "isValid(datum.y)"}],
            "mark": {"type": "circle", "color": "#333333", "size": 18, "opacity": 1},
            "encoding": {"y": {"field": "y", "type": "quantitative", "title": "F2 (Lobanov-normalized)"}}
          },
          {
            "transform": [{"filter": "isValid(datum.q1) && datum.t === 'DS' && datum.r === 'General North'"}],
            "mark": {"type": "rect", "color": "#D9D9D9"},
            "encoding": {"x": null, "xOffset": null, "y": {"datum": 4.27, "type": "quantitative", "title": "F2 (Lobanov-normalized)"}, "y2": {"datum": 4.99}}
          },
          {
            "transform": [{"filter": "isValid(datum.q1) && datum.t === 'DS' && datum.r === 'General North'"}],
            "mark": {"type": "text", "color": "#1A1A1A", "fontSize": 11, "baseline": "middle"},
            "encoding": {"x": null, "xOffset": null, "y": {"datum": 4.63, "type": "quantitative", "title": "F2 (Lobanov-normalized)"}, "text": {"field": "v"}}
          }
        ]
      }
    }
  ],
  "spacing": 18,
  "resolve": {"scale": {"color": "independent", "xOffset": "independent"}, "legend": {"color": "independent"}}
}
